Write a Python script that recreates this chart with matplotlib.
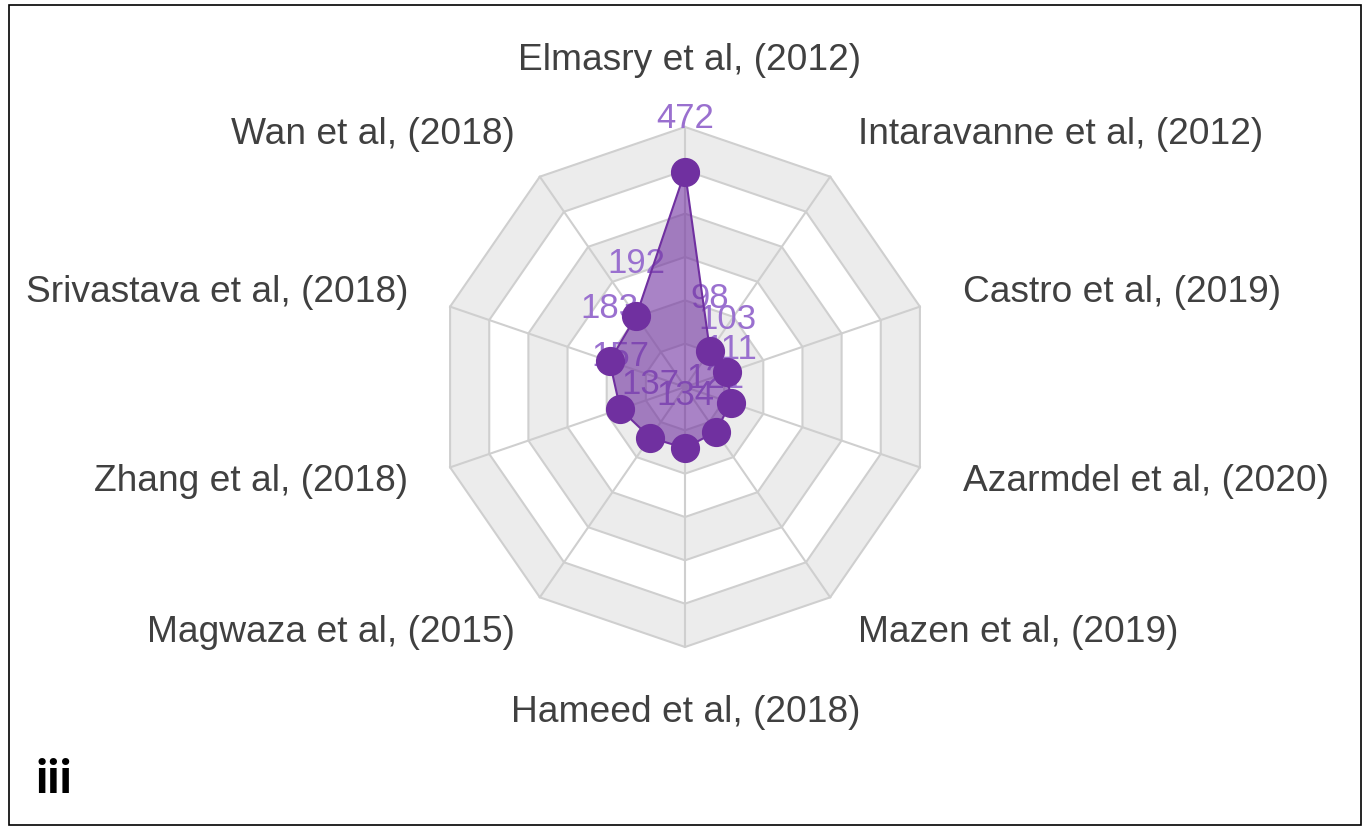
import matplotlib
matplotlib.use("Agg")
import matplotlib.pyplot as plt
from matplotlib.patches import Rectangle
import numpy as np

categories = ["Elmasry et al, (2012)", "Intaravanne et al, (2012)", "Castro et al, (2019)",
              "Azarmdel et al, (2020)", "Mazen et al, (2019)", "Hameed et al, (2018)",
              "Magwaza et al, (2015)", "Zhang et al, (2018)", "Srivastava et al, (2018)",
              "Wan et al, (2018)"]
values = [472, 98, 103, 111, 121, 134, 137, 157, 183, 192]
r_max = 570
n_rings = 6

W, H = 1367, 827
fig = plt.figure(figsize=(W / 100, H / 100), dpi=100)
fig.patch.set_facecolor("white")

ax = fig.add_axes([438 / W, 180 / H, 494 / W, 520 / H], projection="polar")
ax.set_theta_zero_location("N")
ax.set_theta_direction(-1)
ax.set_ylim(0, r_max)
ax.set_aspect("auto")
ax.axis("off")

n = len(categories)
theta = np.arange(n) * 2 * np.pi / n
theta_c = np.append(theta, theta[0])

grid_col = "#cfcfcf"
band_gray = "#ececec"
for k in range(n_rings, 0, -1):
    r = k * r_max / n_rings
    ax.fill(theta_c, [r] * (n + 1), color=band_gray if k % 2 == 0 else "white",
            lw=0, zorder=0, clip_on=False)
for k in range(1, n_rings + 1):
    r = k * r_max / n_rings
    ax.plot(theta_c, [r] * (n + 1), color=grid_col, lw=1.5, zorder=1, clip_on=False)
for t in theta:
    ax.plot([t, t], [0, r_max], color=grid_col, lw=1.5, zorder=1, clip_on=False)

purple = "#7030A0"
vals_c = np.append(values, values[0])
for t, v in zip(theta, values):
    ax.annotate(str(v), (t, v), xytext=(0, 38), textcoords="offset points",
                ha="center", va="center", fontsize=25, color="#9a70cf",
                family="Liberation Sans", zorder=1.5, annotation_clip=False)
ax.fill(theta_c, vals_c, color=purple, alpha=0.6, lw=0, zorder=2)
ax.plot(theta_c, vals_c, color=purple, lw=1.5, zorder=2)
ax.plot(theta, values, "o", ms=20, color=purple, zorder=4, clip_on=False)

# category labels (x px, y px, ha)
label_pos = [(690, 60, "center"), (858, 135, "left"), (963, 292, "left"),
             (963, 482, "left"), (858, 633, "left"), (686, 713, "center"),
             (515, 633, "right"), (408, 482, "right"), (408, 292, "right"),
             (515, 135, "right")]
for name, (x, y, ha) in zip(categories, label_pos):
    fig.text(x / W, 1 - y / H, name, ha=ha, va="center", fontsize=26.7,
             color="#404040", family="Liberation Sans")

fig.text(35 / W, 1 - 793 / H, "iii", ha="left", va="baseline", fontsize=33,
         fontweight="bold", family="Roboto", color="black")

fig.add_artist(Rectangle((9 / W, 2 / H), (1361 - 9) / W, (825 - 5) / H, fill=False,
                         ec="black", lw=1.2, transform=fig.transFigure))

fig.savefig("out.png", dpi=100)
